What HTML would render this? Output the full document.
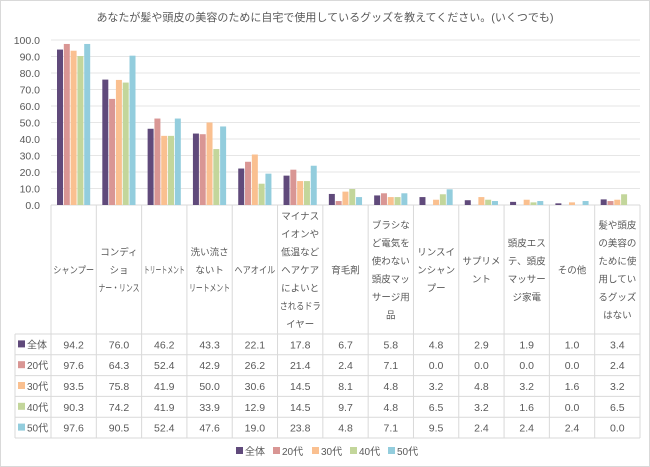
<!DOCTYPE html>
<html><head><meta charset="utf-8"><style>
body{margin:0;background:#fff;}
svg{display:block;font-family:"Liberation Sans","Noto Sans CJK JP",sans-serif;}
</style></head><body>
<svg id="c" width="650" height="467" viewBox="0 0 650 467">
<rect x="0.5" y="0.5" width="649" height="466" fill="#fff" stroke="#d9d9d9"/>
<text x="325" y="21" text-anchor="middle" font-size="11" fill="#595959">あなたが髪や頭皮の美容のために自宅で使用しているグッズを教えてください。(いくつでも)</text>
</svg>
<script>
const categories=[["シャンプー"],["コンディ","ショ","ナー・リンス"],["トリートメント"],["洗い流さ","ないト","リートメント"],["ヘアオイル"],["マイナス","イオンや","低温など","ヘアケア","によいと","されるドラ","イヤー"],["育毛剤"],["ブラシな","ど電気を","使わない","頭皮マッ","サージ用","品"],["リンスイ","ンシャン","プー"],["サプリメ","ント"],["頭皮エス","テ、頭皮","マッサー","ジ家電"],["その他"],["髪や頭皮","の美容の","ために使","用してい","るグッズ","はない"]];
const seriesNames=["全体","20代","30代","40代","50代"];
const sAll=[94.2,76.0,46.2,43.3,22.1,17.8,6.7,5.8,4.8,2.9,1.9,1.0,3.4];
const s20=[97.6,64.3,52.4,42.9,26.2,21.4,2.4,7.1,0.0,0.0,0.0,0.0,2.4];
const s30=[93.5,75.8,41.9,50.0,30.6,14.5,8.1,4.8,3.2,4.8,3.2,1.6,3.2];
const s40=[90.3,74.2,41.9,33.9,12.9,14.5,9.7,4.8,6.5,3.2,1.6,0.0,6.5];
const s50=[97.6,90.5,52.4,47.6,19.0,23.8,4.8,7.1,9.5,2.4,2.4,2.4,0.0];
const yTicks=[0,10,20,30,40,50,60,70,80,90,100];
const series=[sAll,s20,s30,s40,s50];
const colors=["#604a7b","#d99694","#fac090","#c3d69b","#93cddd"];
const NS="http://www.w3.org/2000/svg";
const svg=document.getElementById("c");
const X0=51,X1=640,Y0=205,Y1=40;
const cw=(X1-X0)/categories.length;
const y=v=>Y0-(v/100)*(Y0-Y1);
const xc=i=>X0+i*cw;
function mk(t,a,txt){const e=document.createElementNS(NS,t);for(const k in a)e.setAttribute(k,a[k]);if(txt!==undefined)e.textContent=txt;svg.appendChild(e);return e;}
yTicks.forEach(t=>{
 const g=mk("line",{x1:X0,x2:X1,y1:y(t),y2:y(t),stroke:t===0?"#d9d9d9":"#e6e6e6","stroke-width":1});
 
 
 const l=mk("text",{x:40,y:y(t)+4,"text-anchor":"end","font-size":10.5,fill:"#595959"},t.toFixed(1));
 
 
});
const bw=6,bp=6.8;
series.forEach((s,si)=>{s.forEach((v,i)=>{
 const r=mk("rect",{x:xc(i)+6+si*bp,y:y(v),width:bw,height:Y0-y(v),fill:colors[si]});
 
 
});});
const TL=15,HB=334,RH=20.8;
const bottom=HB+RH*5;
mk("line",{x1:X0,x2:X0,y1:Y0,y2:bottom,stroke:"#d9d9d9"});
for(let i=1;i<=categories.length;i++)mk("line",{x1:xc(i),x2:xc(i),y1:Y0,y2:bottom,stroke:"#d9d9d9"});
mk("line",{x1:TL,x2:TL,y1:HB,y2:bottom,stroke:"#d9d9d9"});
for(let r=0;r<=5;r++)mk("line",{x1:TL,x2:X1,y1:HB+r*RH,y2:HB+r*RH,stroke:"#d9d9d9"});
categories.forEach((lines,i)=>{
 const lh=18,mid=(Y0+HB)/2,start=mid-(lines.length-1)*lh/2;
 lines.forEach((ln,k)=>{
  const a={x:xc(i)+cw/2,y:start+k*lh+4,"text-anchor":"middle","font-size":9.5,fill:"#595959"};
  if(ln.length*9.5>41){a.textLength=41;a.lengthAdjust="spacingAndGlyphs";}
  const t=mk("text",a,ln);
  
  
 });
});
series.forEach((s,si)=>{
 const ry=HB+si*RH+RH/2;
 const m=mk("rect",{x:18,y:ry-4,width:7,height:7,fill:colors[si]});
 
 
 const n=mk("text",{x:27,y:ry+4,"font-size":10,fill:"#595959"},seriesNames[si]);
 
 
 s.forEach((v,i)=>{
  const t=mk("text",{x:xc(i)+cw/2,y:ry+4,"text-anchor":"middle","font-size":10.5,fill:"#595959"},v.toFixed(1));
  
  
 });
});
const lx=[236,273,312,350,388];
seriesNames.forEach((nm,si)=>{
 const m=mk("rect",{x:lx[si],y:447,width:7,height:7,fill:colors[si]});
 
 
 const t=mk("text",{x:lx[si]+9,y:455,"font-size":10,fill:"#595959"},nm);
 
 
});
</script>
</body></html>
